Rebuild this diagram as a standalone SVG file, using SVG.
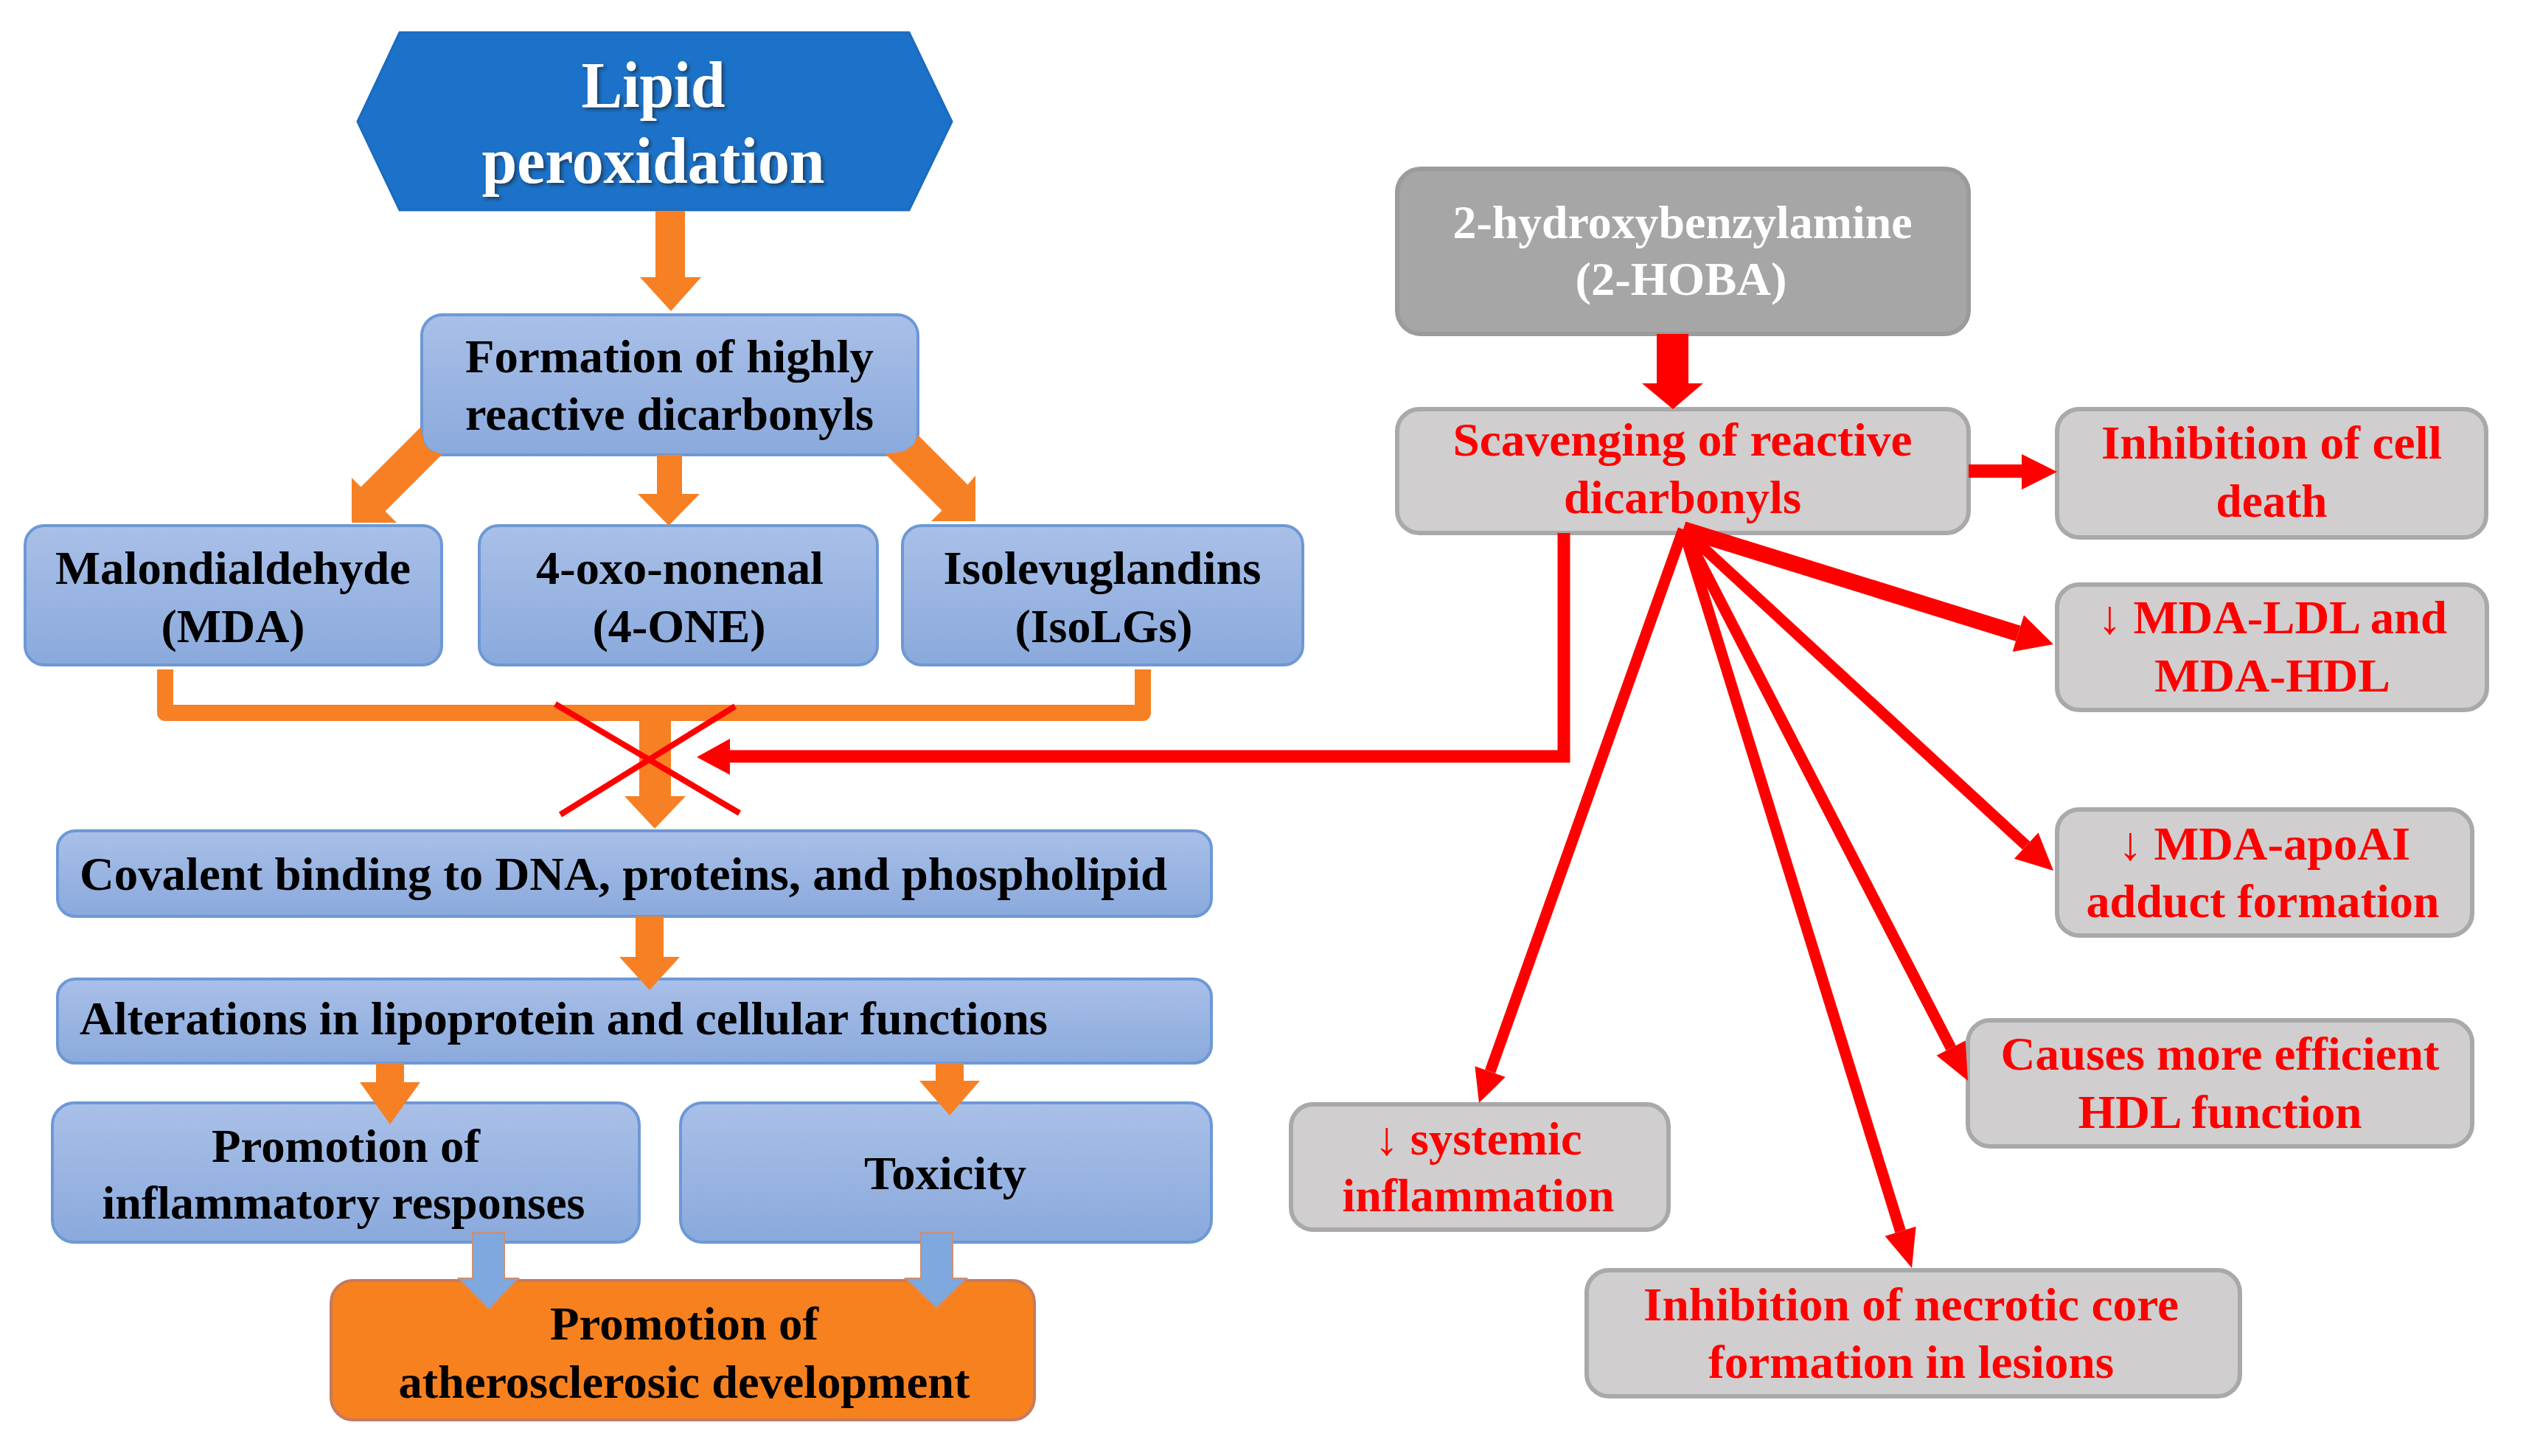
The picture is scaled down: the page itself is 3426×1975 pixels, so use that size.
<svg xmlns="http://www.w3.org/2000/svg" width="3426" height="1975" viewBox="0 0 3426 1975">
<defs>
<linearGradient id="gb" x1="0" y1="0" x2="0" y2="1">
<stop offset="0" stop-color="#A9C0E8"/>
<stop offset="1" stop-color="#8AA9DC"/>
</linearGradient>
<filter id="sh" x="-10%" y="-20%" width="120%" height="140%">
<feDropShadow dx="3" dy="3" stdDeviation="2" flood-color="#222" flood-opacity="0.6"/>
</filter>
<style>
.t{font-family:"Liberation Serif","Times New Roman",serif;font-weight:bold;font-size:64px;text-anchor:middle}
.s{text-anchor:start}
.k{fill:#000}
.r{fill:#FF0000}
.w{fill:#FFFFFF;font-size:88px}
.blue{fill:url(#gb);stroke:#6D98D6;stroke-width:4}
.gray{fill:#D0CECE;stroke:#A9A9A9;stroke-width:6}
.dark{fill:#A6A6A6;stroke:#9B9B9B;stroke-width:6}
.org{fill:#F7811F;stroke:#C47B5E;stroke-width:4}
.oa{fill:#F78024}
.ob{fill:none;stroke:#F78024;stroke-width:22;stroke-linejoin:round}
.ra{fill:#FF0000}
.rl{fill:none;stroke:#FF0000;stroke-linecap:butt}
.ba{fill:#7EA8DE;stroke:#C99078;stroke-width:2}
</style>
</defs>
<rect width="3426" height="1975" fill="#FFFFFF"/>

<g id="nodes">
<g id="lipid-peroxidation">
<polygon points="485,165 542,44 1233,44 1291,165 1233,285 542,285" fill="#1C72C8" stroke="#1A6BBF" stroke-width="3"/>
<text class="t w" filter="url(#sh)" x="886" y="145" textLength="195" lengthAdjust="spacingAndGlyphs">Lipid</text>
<text class="t w" filter="url(#sh)" x="886" y="248" textLength="465" lengthAdjust="spacingAndGlyphs">peroxidation</text>
</g>
<g id="formation">
<rect class="blue" x="572" y="427" width="673" height="190" rx="28"/>
<text class="t k" x="908" y="505" textLength="554" lengthAdjust="spacingAndGlyphs">Formation of highly</text>
<text class="t k" x="908" y="583" textLength="554" lengthAdjust="spacingAndGlyphs">reactive dicarbonyls</text>
</g>
<g id="mda">
<rect class="blue" x="34" y="713" width="565" height="189" rx="26"/>
<text class="t k" x="316" y="792" textLength="482" lengthAdjust="spacingAndGlyphs">Malondialdehyde</text>
<text class="t k" x="316" y="871" textLength="195" lengthAdjust="spacingAndGlyphs">(MDA)</text>
</g>
<g id="one">
<rect class="blue" x="650" y="713" width="540" height="189" rx="26"/>
<text class="t k" x="922" y="792" textLength="390" lengthAdjust="spacingAndGlyphs">4-oxo-nonenal</text>
<text class="t k" x="921" y="871" textLength="235" lengthAdjust="spacingAndGlyphs">(4-ONE)</text>
</g>
<g id="isolgs">
<rect class="blue" x="1224" y="713" width="543" height="189" rx="26"/>
<text class="t k" x="1495" y="792" textLength="431" lengthAdjust="spacingAndGlyphs">Isolevuglandins</text>
<text class="t k" x="1497" y="871" textLength="241" lengthAdjust="spacingAndGlyphs">(IsoLGs)</text>
</g>
<g id="covalent">
<rect class="blue" x="78" y="1127" width="1565" height="116" rx="24"/>
<text class="t k s" x="108" y="1207" textLength="1475" lengthAdjust="spacingAndGlyphs">Covalent binding to DNA, proteins, and phospholipid</text>
</g>
<g id="alterations">
<rect class="blue" x="78" y="1328" width="1565" height="114" rx="24"/>
<text class="t k s" x="108" y="1403" textLength="1313" lengthAdjust="spacingAndGlyphs">Alterations in lipoprotein and cellular functions</text>
</g>
<g id="inflammatory">
<rect class="blue" x="71" y="1496" width="796" height="189" rx="30"/>
<text class="t k" x="469" y="1576" textLength="364" lengthAdjust="spacingAndGlyphs">Promotion of</text>
<text class="t k" x="466" y="1653" textLength="655" lengthAdjust="spacingAndGlyphs">inflammatory responses</text>
</g>
<g id="toxicity">
<rect class="blue" x="923" y="1496" width="720" height="189" rx="30"/>
<text class="t k" x="1282" y="1613" textLength="220" lengthAdjust="spacingAndGlyphs">Toxicity</text>
</g>
<g id="atherosclerosis">
<rect class="org" x="449" y="1737" width="954" height="189" rx="30"/>
<text class="t k" x="928" y="1817" textLength="364" lengthAdjust="spacingAndGlyphs">Promotion of</text>
<text class="t k" x="928" y="1896" textLength="775" lengthAdjust="spacingAndGlyphs">atherosclerosic development</text>
</g>
<g id="hoba">
<rect class="dark" x="1895" y="229" width="775" height="224" rx="32"/>
<text class="t" fill="#FFFFFF" x="2282" y="323" textLength="623" lengthAdjust="spacingAndGlyphs">2-hydroxybenzylamine</text>
<text class="t" fill="#FFFFFF" x="2280" y="400" textLength="287" lengthAdjust="spacingAndGlyphs">(2-HOBA)</text>
</g>
<g id="scavenging">
<rect class="gray" x="1895" y="555" width="775" height="168" rx="30"/>
<text class="t r" x="2282" y="618" textLength="623" lengthAdjust="spacingAndGlyphs">Scavenging of reactive</text>
<text class="t r" x="2282" y="696" textLength="322" lengthAdjust="spacingAndGlyphs">dicarbonyls</text>
</g>
<g id="cell-death">
<rect class="gray" x="2790" y="555" width="582" height="174" rx="30"/>
<text class="t r" x="3081" y="622" textLength="462" lengthAdjust="spacingAndGlyphs">Inhibition of cell</text>
<text class="t r" x="3081" y="701" textLength="151" lengthAdjust="spacingAndGlyphs">death</text>
</g>
<g id="mda-ldl">
<rect class="gray" x="2790" y="793" width="583" height="170" rx="30"/>
<text class="t r" x="3082" y="859" textLength="474" lengthAdjust="spacingAndGlyphs">↓ MDA-LDL and</text>
<text class="t r" x="3082" y="938" textLength="320" lengthAdjust="spacingAndGlyphs">MDA-HDL</text>
</g>
<g id="mda-apoai">
<rect class="gray" x="2790" y="1098" width="563" height="171" rx="30"/>
<text class="t r" x="3071" y="1166" textLength="396" lengthAdjust="spacingAndGlyphs">↓ MDA-apoAI</text>
<text class="t r" x="3069" y="1244" textLength="479" lengthAdjust="spacingAndGlyphs">adduct formation</text>
</g>
<g id="hdl-function">
<rect class="gray" x="2669" y="1384" width="684" height="171" rx="30"/>
<text class="t r" x="3011" y="1451" textLength="595" lengthAdjust="spacingAndGlyphs">Causes more efficient</text>
<text class="t r" x="3011" y="1530" textLength="385" lengthAdjust="spacingAndGlyphs">HDL function</text>
</g>
<g id="necrotic-core">
<rect class="gray" x="2152" y="1723" width="886" height="171" rx="30"/>
<text class="t r" x="2592" y="1791" textLength="726" lengthAdjust="spacingAndGlyphs">Inhibition of necrotic core</text>
<text class="t r" x="2592" y="1869" textLength="550" lengthAdjust="spacingAndGlyphs">formation in lesions</text>
</g>
<g id="systemic">
<rect class="gray" x="1751" y="1498" width="512" height="170" rx="30"/>
<text class="t r" x="2005" y="1566" textLength="281" lengthAdjust="spacingAndGlyphs">↓ systemic</text>
<text class="t r" x="2005" y="1643" textLength="369" lengthAdjust="spacingAndGlyphs">inflammation</text>
</g>
</g>

<g id="connectors">
<polygon class="oa" points="889,286 929,286 929,376 951,376 910,422 868,376 889,376"/>
<polygon class="oa" points="571,579 489.5,660.5 477,648 477,709 538,709 522.5,693.5 600,616 585,612 575,602"/>
<polygon class="oa" points="891,617 925,617 925,670 949,670 907,713 865,670 891,670"/>
<polygon class="oa" points="1201,616 1277.5,692.5 1263,707 1323,707 1323,645 1312.5,657.5 1245,590 1240,602 1227,612"/>
<path class="ob" d="M224 908 V967 H1550 V908"/>
<polygon class="oa" points="867,958 910,958 910,1080 930,1080 888,1124 847,1080 867,1080"/>
<polygon class="oa" points="862,1243 900,1243 900,1298 922,1298 881,1343 840,1298 862,1298"/>
<polygon class="oa" points="510,1442 548,1442 548,1468 570,1468 529,1525 488,1468 510,1468"/>
<polygon class="oa" points="1269,1442 1307,1442 1307,1466 1329,1466 1288,1513 1247,1466 1269,1466"/>
<polygon class="ba" points="641,1672 684,1672 684,1734 703,1734 663,1776 622,1734 641,1734"/>
<polygon class="ba" points="1249,1672 1292,1672 1292,1734 1311,1734 1270,1774 1228,1734 1249,1734"/>
<line class="rl" x1="753" y1="955" x2="1003" y2="1103" stroke-width="8"/>
<line class="rl" x1="997" y1="958" x2="760" y2="1105" stroke-width="8"/>
<path class="rl" d="M2121 723 V1026 H985" stroke-width="17" stroke-linejoin="miter"/>
<polygon class="ra" points="990,1002 945,1027 990,1051"/>
<polygon class="ra" points="2247,453 2290,453 2290,520 2310,520 2269,555 2227,520 2247,520"/>
<polygon class="ra" points="2670,630 2742,630 2742,616 2790,640 2742,664 2742,648 2670,648"/>
<line class="rl" x1="2283" y1="718" x2="2021.1" y2="1453.6" stroke-width="15"/>
<polygon class="ra" points="2041.8,1461 2006,1496 2000.4,1446.2"/>
<line class="rl" x1="2283" y1="718" x2="2577.6" y2="1670.3" stroke-width="15"/>
<polygon class="ra" points="2598.6,1663.8 2593,1720 2556.6,1676.8"/>
<line class="rl" x1="2283" y1="718" x2="2646.1" y2="1421.6" stroke-width="15"/>
<polygon class="ra" points="2665.7,1411.5 2669,1466 2626.5,1431.7"/>
<line class="rl" x1="2283" y1="718" x2="2748.2" y2="1147.1" stroke-width="15"/>
<polygon class="ra" points="2764.5,1129.5 2785,1181 2731.9,1164.7"/>
<line class="rl" x1="2283" y1="718" x2="2737.3" y2="859.2" stroke-width="22"/>
<polygon class="ra" points="2745,834.4 2785,874 2729.6,884"/>
</g>
</svg>
